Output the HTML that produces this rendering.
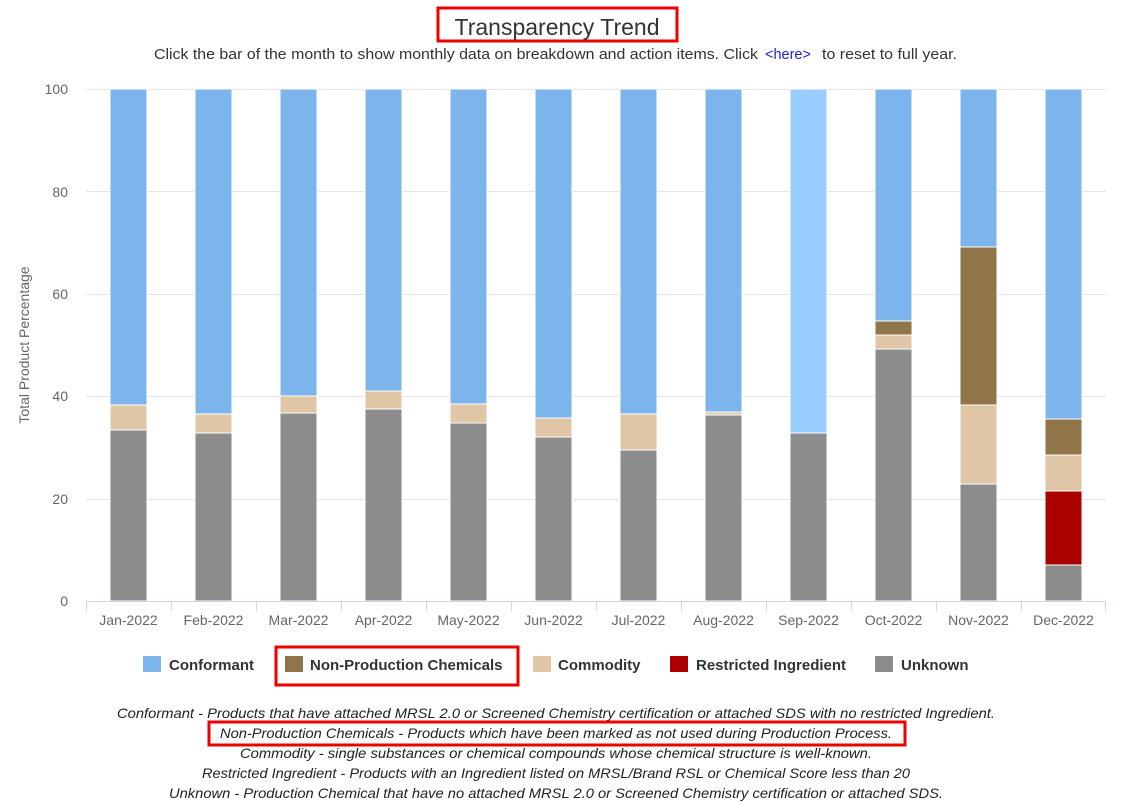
<!DOCTYPE html>
<html><head><meta charset="utf-8"><style>
body{margin:0;background:#fff;}
svg{display:block;font-family:"Liberation Sans",sans-serif;}
</style></head><body>
<svg width="1121" height="802" viewBox="0 0 1121 802">
<rect x="438" y="8" width="239" height="33" fill="none" stroke="#e00" stroke-width="3"/>
<text x="557" y="35" text-anchor="middle" font-size="23" fill="#333">Transparency Trend</text>
<text x="154" y="59" font-size="14.5" fill="#333" textLength="604" lengthAdjust="spacingAndGlyphs">Click the bar of the month to show monthly data on breakdown and action items. Click</text>
<text x="765" y="59" font-size="14.5" fill="#22c">&lt;here&gt;</text>
<text x="822" y="59" font-size="14.5" fill="#333" textLength="135" lengthAdjust="spacingAndGlyphs">to reset to full year.</text>
<g stroke="#e6e6e6" stroke-width="1">
<line x1="86" x2="1106" y1="89.5" y2="89.5"/>
<line x1="86" x2="1106" y1="191.5" y2="191.5"/>
<line x1="86" x2="1106" y1="294.5" y2="294.5"/>
<line x1="86" x2="1106" y1="396.5" y2="396.5"/>
<line x1="86" x2="1106" y1="499.5" y2="499.5"/>
</g>
<g font-size="14" fill="#666" text-anchor="end">
<text x="68" y="94">100</text><text x="68" y="197">80</text><text x="68" y="299">60</text><text x="68" y="401">40</text><text x="68" y="504">20</text><text x="68" y="606">0</text>
</g>
<text transform="translate(29,345) rotate(-90)" text-anchor="middle" font-size="14" fill="#666">Total Product Percentage</text>
<g id="bars" stroke="#fff" stroke-width="1"></g>
<g stroke="#ccd6eb" stroke-width="1">
<line x1="86" x2="1106" y1="601.5" y2="601.5"/>
</g>
<g id="ticks" stroke="#ccd6eb"></g>
<g id="xl" font-size="14" fill="#666" text-anchor="middle"></g>
<rect x="276" y="647" width="242" height="38" fill="none" stroke="#e00" stroke-width="3"/>
<g font-size="15" font-weight="bold" fill="#333">
<rect x="143" y="656" width="18" height="16" fill="#7cb5ec"/><text x="169" y="670">Conformant</text>
<rect x="285" y="656" width="18" height="16" fill="#8f7547"/><text x="310" y="670">Non-Production Chemicals</text>
<rect x="533" y="656" width="18" height="16" fill="#dfc6a6"/><text x="558" y="670">Commodity</text>
<rect x="670" y="656" width="18" height="16" fill="#aa0000"/><text x="696" y="670">Restricted Ingredient</text>
<rect x="875" y="656" width="18" height="16" fill="#8c8c8c"/><text x="901" y="670">Unknown</text>
</g>
<rect x="209" y="722" width="696" height="23" fill="none" stroke="#e00" stroke-width="3"/>
<g font-size="14" font-style="italic" fill="#222" text-anchor="middle">
<text x="556" y="718" textLength="878" lengthAdjust="spacingAndGlyphs">Conformant - Products that have attached MRSL 2.0 or Screened Chemistry certification or attached SDS with no restricted Ingredient.</text>
<text x="556" y="738" textLength="672" lengthAdjust="spacingAndGlyphs">Non-Production Chemicals - Products which have been marked as not used during Production Process.</text>
<text x="556" y="758" textLength="632" lengthAdjust="spacingAndGlyphs">Commodity - single substances or chemical compounds whose chemical structure is well-known.</text>
<text x="556" y="778" textLength="708" lengthAdjust="spacingAndGlyphs">Restricted Ingredient - Products with an Ingredient listed on MRSL/Brand RSL or Chemical Score less than 20</text>
<text x="556" y="798" textLength="774" lengthAdjust="spacingAndGlyphs">Unknown - Production Chemical that have no attached MRSL 2.0 or Screened Chemistry certification or attached SDS.</text>
</g>
</svg>
<script>
var ns="http://www.w3.org/2000/svg";
var months=["Jan","Feb","Mar","Apr","May","Jun","Jul","Aug","Sep","Oct","Nov","Dec"];
// [unknown, restricted, commodity, nonprod] tops in px
var d=[[430,430,405,405],[433,433,414,414],[413,413,396,396],[409,409,391,391],[423,423,404,404],[437,437,418,418],[450,450,414,414],[415,415,412,412],[433,433,433,433],[349,349,335,321],[484,484,405,247],[565,491,455,419]];
var cols=["#8c8c8c","#aa0000","#dfc6a6","#8f7547"];
var g=document.getElementById("bars"),t=document.getElementById("ticks"),xl=document.getElementById("xl");
function r(x,y1,y2,c){if(y2-y1<=0)return;var e=document.createElementNS(ns,"rect");e.setAttribute("x",x);e.setAttribute("y",y1);e.setAttribute("width",37);e.setAttribute("height",y2-y1);e.setAttribute("fill",c);g.appendChild(e);}
for(var i=0;i<12;i++){
 var x=110+i*85, prev=601;
 for(var k=0;k<4;k++){r(x,d[i][k],prev,cols[k]);prev=d[i][k];}
 r(x,89,prev,i==8?"#99ccff":"#7cb5ec");
 var l=document.createElementNS(ns,"line");var lx=86.5+i*85;l.setAttribute("x1",lx);l.setAttribute("x2",lx);l.setAttribute("y1",601);l.setAttribute("y2",611);t.appendChild(l);
 var tx=document.createElementNS(ns,"text");tx.setAttribute("x",128.5+i*85);tx.setAttribute("y",625);tx.textContent=months[i]+"-2022";xl.appendChild(tx);
}
var l=document.createElementNS(ns,"line");l.setAttribute("x1",1105.5);l.setAttribute("x2",1105.5);l.setAttribute("y1",601);l.setAttribute("y2",611);t.appendChild(l);
</script>
</body></html>
